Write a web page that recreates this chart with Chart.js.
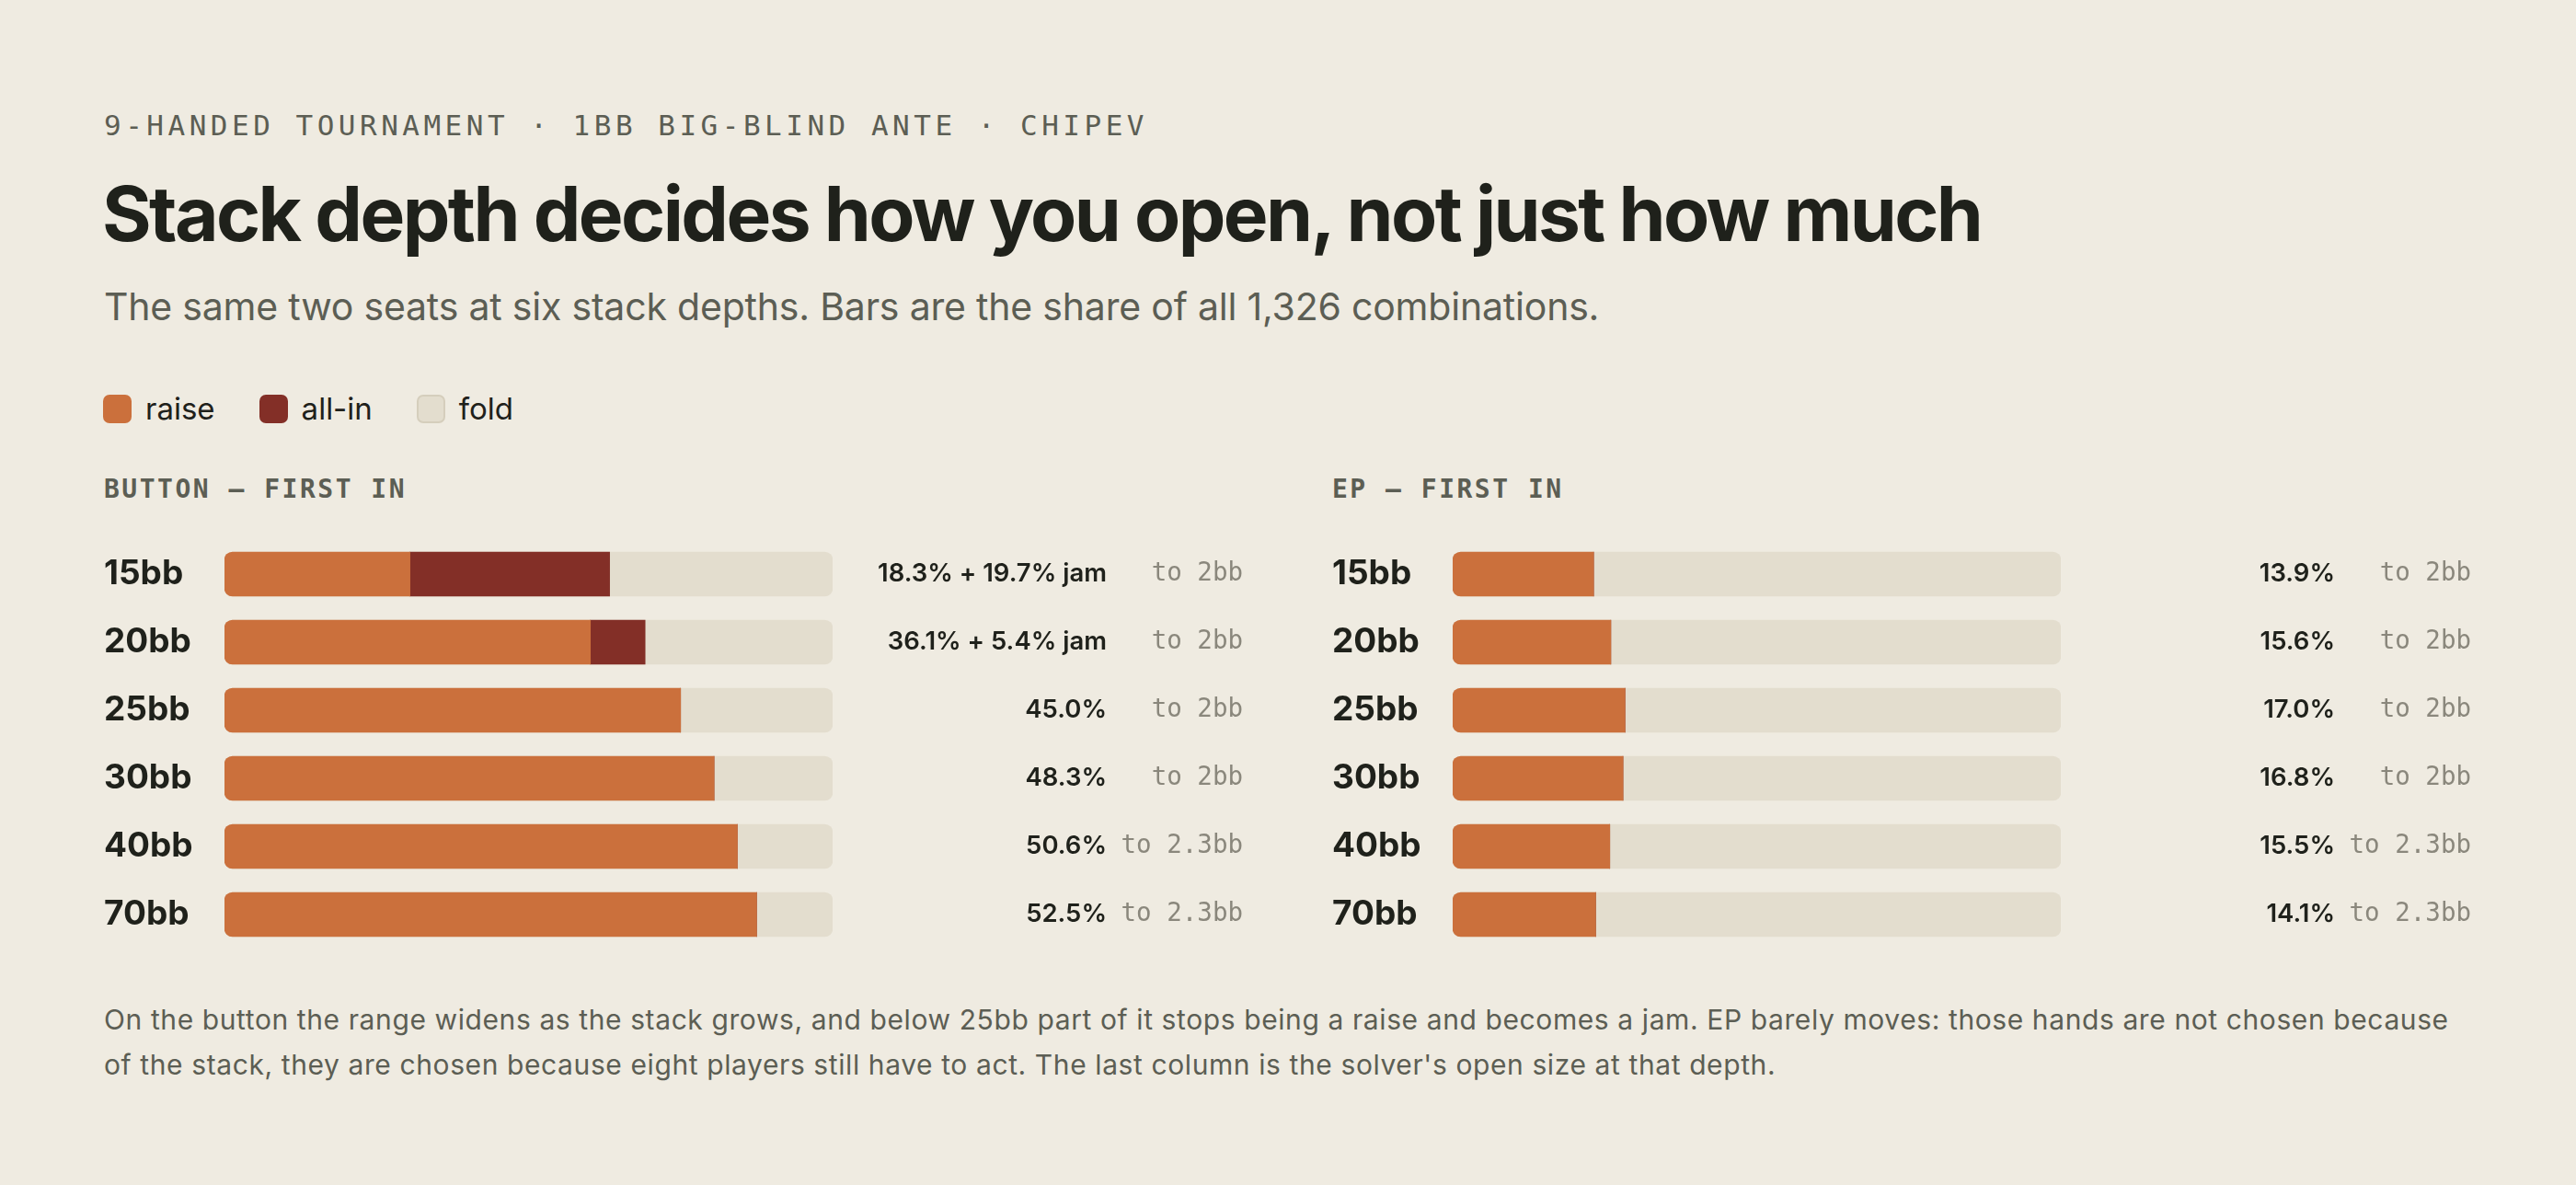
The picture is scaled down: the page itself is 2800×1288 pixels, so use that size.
<!DOCTYPE html>
<html>
<head>
<meta charset="utf-8">
<script src="https://cdn.jsdelivr.net/npm/chart.js@4.4.1/dist/chart.umd.min.js"></script>
<style>
  html, body { margin: 0; padding: 0; background: #EFEBE1; }
  body { width: 2800px; height: 1288px; position: relative; overflow: hidden; font-family: Inter, sans-serif; }
  .abs { position: absolute; line-height: 1; white-space: nowrap; }
  #kicker { left: 113px; top: 121px; font-family: 'DejaVu Sans Mono', monospace; font-size: 31px; letter-spacing: 4.5px; color: #5C5E54; }
  #title { left: 111px; top: 192px; font-size: 82px; font-weight: 700; color: #1F211B; letter-spacing: -2.6px; }
  #subtitle { left: 113px; top: 312.6px; font-size: 41px; color: #5C5E54; letter-spacing: -0.2px; }
  #legend { left: 112px; top: 424px; height: 40px; display: flex; align-items: center; }
  .item { display: flex; align-items: center; margin-right: 48px; font-size: 33px; color: #1F211B; }
  .sw { width: 31px; height: 31px; border-radius: 7px; margin-right: 15px; box-sizing: border-box; }
  .head { top: 518px; font-family: 'DejaVu Sans Mono', monospace; font-weight: 700; font-size: 28px; letter-spacing: 2.5px; color: #5C5E54; }
  .panel { position: absolute; top: 587px; width: 1238px; height: 444px; }
  #footer { position: absolute; left: 113px; top: 1083.6px; font-size: 30px; line-height: 49px; color: #5C5E54; white-space: nowrap; letter-spacing: 0.6px; }
</style>
</head>
<body>
<div id="kicker" class="abs">9-HANDED TOURNAMENT · 1BB BIG-BLIND ANTE · CHIPEV</div>
<div id="title" class="abs">Stack depth decides how you open, not just how much</div>
<div id="subtitle" class="abs">The same two seats at six stack depths. Bars are the share of all 1,326 combinations.</div>
<div id="legend" class="abs"></div>
<div class="abs head" style="left:113px">BUTTON — FIRST IN</div>
<div class="abs head" style="left:1448px">EP — FIRST IN</div>
<div class="panel" style="left:113px"><canvas id="btn"></canvas></div>
<div class="panel" style="left:1448px"><canvas id="ep"></canvas></div>
<div id="footer">On the button the range widens as the stack grows, and below 25bb part of it stops being a raise and becomes a jam. EP barely moves: those hands are not chosen because<br>of the stack, they are chosen because eight players still have to act. The last column is the solver's open size at that depth.</div>

<script>
// ---- data ----
const stacks = ['15bb', '20bb', '25bb', '30bb', '40bb', '70bb'];
const btnRaise = [18.3, 36.1, 45.0, 48.3, 50.6, 52.5];
const btnJam   = [19.7, 5.4, 0, 0, 0, 0];
const btnSize  = ['to 2bb', 'to 2bb', 'to 2bb', 'to 2bb', 'to 2.3bb', 'to 2.3bb'];
const epRaise  = [13.9, 15.6, 17.0, 16.8, 15.5, 14.1];
const epJam    = [0, 0, 0, 0, 0, 0];
const epSize   = ['to 2bb', 'to 2bb', 'to 2bb', 'to 2bb', 'to 2.3bb', 'to 2.3bb'];
const seriesNames = ['raise', 'all-in', 'fold'];
const AXIS_MAX = 60;

// ---- styles ----
const C_RAISE = '#CB703C';
const C_JAM = '#832F27';
const C_FOLD = '#E3DDCE';
const C_FOLD_EDGE = '#D5CEBC';
const C_TEXT = '#1F211B';
const C_MUTED = '#8A877C';
const seriesColors = [C_RAISE, C_JAM, C_FOLD];

// legend
const legend = document.getElementById('legend');
seriesNames.forEach((name, i) => {
  const it = document.createElement('div');
  it.className = 'item';
  const sw = document.createElement('span');
  sw.className = 'sw';
  sw.style.background = seriesColors[i];
  if (i === 2) sw.style.border = '2px solid ' + C_FOLD_EDGE;
  const tx = document.createElement('span');
  tx.textContent = name;
  it.appendChild(sw); it.appendChild(tx);
  legend.appendChild(it);
});

function fix(w) {
  return function (s) { s.width = w; s.paddingTop = 0; s.paddingBottom = 0; };
}

function makePanel(id, raise, jam, sizes) {
  const valueLabels = raise.map((r, i) => jam[i] > 0
    ? r.toFixed(1) + '% + ' + jam[i].toFixed(1) + '% jam'
    : r.toFixed(1) + '%');
  const common = { borderSkipped: false, borderWidth: 0, grouped: false, barThickness: 48, xAxisID: 'x', yAxisID: 'y' };
  new Chart(document.getElementById(id), {
    type: 'bar',
    data: {
      labels: stacks,
      datasets: [
        Object.assign({ label: seriesNames[0], data: raise.map(v => [0, v]), backgroundColor: C_RAISE,
          borderRadius: { topLeft: 9, bottomLeft: 9, topRight: 0, bottomRight: 0 } }, common),
        Object.assign({ label: seriesNames[1], data: raise.map((v, i) => [v, v + jam[i]]), backgroundColor: C_JAM,
          borderRadius: 0 }, common),
        Object.assign({ label: seriesNames[2], data: raise.map(() => [0, AXIS_MAX]), backgroundColor: C_FOLD,
          borderRadius: 9 }, common)
      ]
    },
    options: {
      indexAxis: 'y',
      responsive: true,
      maintainAspectRatio: false,
      animation: false,
      events: [],
      layout: { padding: 0 },
      plugins: { legend: { display: false }, tooltip: { enabled: false }, title: { display: false } },
      scales: {
        x: { type: 'linear', min: 0, max: AXIS_MAX, display: false },
        y: {
          type: 'category', position: 'left', offset: true,
          grid: { display: false }, border: { display: false },
          ticks: { crossAlign: 'far', padding: 0, color: C_TEXT, font: { family: 'Inter', weight: '700', size: 37 } },
          afterFit: fix(131)
        },
        y2: {
          type: 'category', labels: valueLabels, position: 'right', offset: true, weight: 1,
          grid: { display: false }, border: { display: false },
          ticks: { crossAlign: 'far', padding: 0, color: C_TEXT, font: { family: 'Inter', weight: '600', size: 27.5 } },
          afterFit: fix(298)
        },
        y3: {
          type: 'category', labels: sizes, position: 'right', offset: true, weight: 2,
          grid: { display: false }, border: { display: false },
          ticks: { crossAlign: 'far', padding: 0, color: C_MUTED, font: { family: 'DejaVu Sans Mono', weight: '400', size: 27.5 } },
          afterFit: fix(148)
        }
      }
    }
  });
}

makePanel('btn', btnRaise, btnJam, btnSize);
makePanel('ep', epRaise, epJam, epSize);
</script>
</body>
</html>
